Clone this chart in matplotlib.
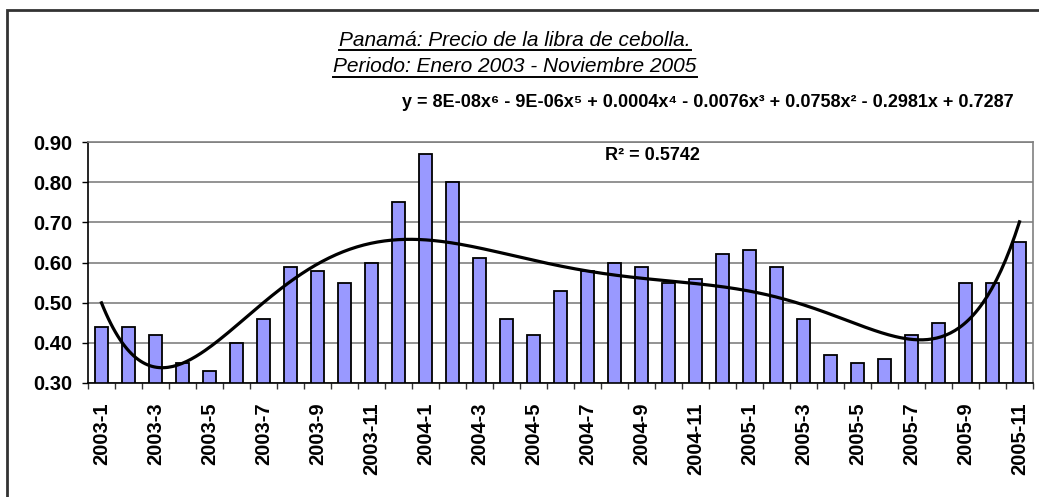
import numpy as np
import matplotlib
matplotlib.use("Agg")
import matplotlib.pyplot as plt
from matplotlib.patches import Rectangle
from matplotlib.lines import Line2D

plt.rcParams['font.family'] = ['Liberation Sans', 'DejaVu Sans']

months = ['2003-1', '2003-2', '2003-3', '2003-4', '2003-5', '2003-6', '2003-7',
          '2003-8', '2003-9', '2003-10', '2003-11', '2003-12',
          '2004-1', '2004-2', '2004-3', '2004-4', '2004-5', '2004-6', '2004-7',
          '2004-8', '2004-9', '2004-10', '2004-11', '2004-12',
          '2005-1', '2005-2', '2005-3', '2005-4', '2005-5', '2005-6', '2005-7',
          '2005-8', '2005-9', '2005-10', '2005-11']
precio = [0.44, 0.44, 0.42, 0.35, 0.33, 0.40, 0.46, 0.59, 0.58, 0.55, 0.60, 0.75,
          0.87, 0.80, 0.61, 0.46, 0.42, 0.53, 0.58, 0.60, 0.59, 0.55, 0.56, 0.62,
          0.63, 0.59, 0.46, 0.37, 0.35, 0.36, 0.42, 0.45, 0.55, 0.55, 0.65]

titulo1 = 'Panamá: Precio de la libra de cebolla.'
titulo2 = 'Periodo: Enero 2003 - Noviembre 2005'
ecuacion = 'y = 8E-08x⁶ - 9E-06x⁵ + 0.0004x⁴ - 0.0076x³ + 0.0758x² - 0.2981x + 0.7287'
r2_texto = 'R² = 0.5742'

W, H = 1039, 497
fig = plt.figure(figsize=(W / 100, H / 100), dpi=100)
ax = fig.add_axes([88 / W, 1 - 383 / H, (1033 - 88) / W, (383 - 142) / H])

x = np.arange(1, len(precio) + 1)
ax.bar(x, precio, width=0.48, color='#9999FF', edgecolor='black', linewidth=1.3, zorder=2)

# tendencia polinomica orden 6 (como Excel)
coef = np.polyfit(x, precio, 6)
xs = np.linspace(1, len(precio), 400)
ax.plot(xs, np.polyval(coef, xs), color='black', linewidth=2.3, zorder=3)

ax.set_xlim(0.5, len(precio) + 0.5)
ax.set_ylim(0.30, 0.90)
ax.set_yticks(np.arange(0.30, 0.901, 0.10))
ax.set_yticklabels(['%.2f' % v for v in np.arange(0.30, 0.901, 0.10)],
                   fontsize=14.5, fontweight='bold')
ax.set_xticks(x[::2])
ax.set_xticklabels(months[::2], rotation=90, fontsize=14.5, fontweight='bold')
ax.set_xticks(np.arange(0.5, len(precio) + 1, 1), minor=True)
ax.tick_params(axis='x', which='major', length=0, pad=14)
ax.tick_params(axis='x', which='minor', length=4, width=1, color='#333333')
ax.tick_params(axis='y', length=4.5, width=1, pad=7)
ax.yaxis.grid(True, color='#808080', linewidth=1.2, zorder=0)
ax.set_axisbelow(True)
for s in ['top', 'right']:
    ax.spines[s].set_color('#808080')
    ax.spines[s].set_linewidth(1.2)
for s in ['left', 'bottom']:
    ax.spines[s].set_color('black')
    ax.spines[s].set_linewidth(1.2)

# textos de la linea de tendencia
fig.text(708 / W, 1 - 107 / H, ecuacion, fontsize=13, fontweight='bold',
         ha='center', va='baseline')
fig.text(652 / W, 1 - 160 / H, r2_texto, fontsize=13, fontweight='bold',
         ha='center', va='baseline', zorder=5)

# titulo subrayado
t1 = fig.text(515 / W, 1 - 46 / H, titulo1, fontsize=15, style='italic',
              ha='center', va='baseline')
t2 = fig.text(515 / W, 1 - 72 / H, titulo2, fontsize=15, style='italic',
              ha='center', va='baseline')
fig.canvas.draw()
r = fig.canvas.get_renderer()
for t, yb in [(t1, 50), (t2, 77)]:
    bb = t.get_window_extent(r)
    fig.add_artist(Line2D([bb.x0 / W, bb.x1 / W], [1 - yb / H, 1 - yb / H],
                          color='black', linewidth=1.4))

# marco exterior
fig.add_artist(Rectangle((7 / W, -0.1), 1.2, 1 - 10 / H + 0.1, fill=False,
                         edgecolor='#333333', linewidth=2, transform=fig.transFigure))

fig.savefig('out.png', dpi=100)
